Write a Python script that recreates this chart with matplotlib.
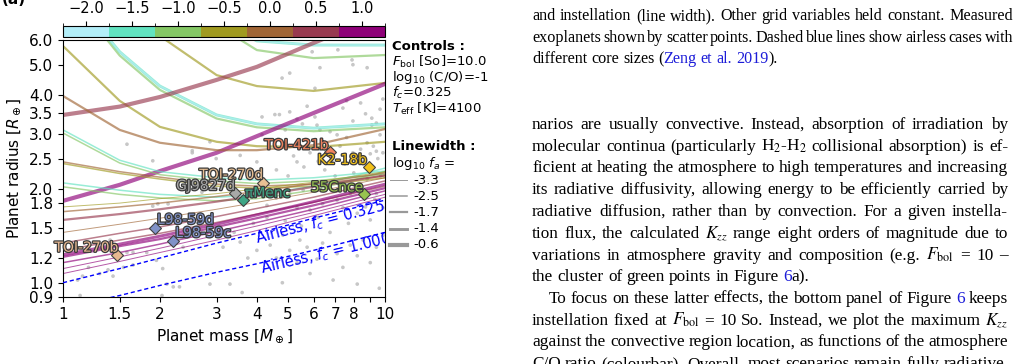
"""
Panel (a): model mass-radius curves coloured by a discrete colourbar,
line width by log10 f_a, measured exoplanets as grey points, plus the
neighbouring column of paper text.
"""

import matplotlib
matplotlib.use("Agg")
import matplotlib.pyplot as plt
import matplotlib.patheffects as pe
from matplotlib.colors import ListedColormap, BoundaryNorm
from matplotlib.colorbar import ColorbarBase
from matplotlib.lines import Line2D
from matplotlib.ticker import FixedLocator, FixedFormatter, NullLocator
import numpy as np

W, H = 1024, 364

# ---------------------------------------------------------------- data
mass_grid = [1, 1.5, 2, 3, 4, 6, 10]

cbar_levels = [-2.0, -1.5, -1.0, -0.5, 0.0, 0.5, 1.0]
cbar_colors = ["#b3eef8", "#62e3c0", "#84c765", "#a09a20",
               "#a06535", "#983a50", "#8e0078"]

fa_labels = ["-3.3", "-2.5", "-1.7", "-1.4", "-0.6"]
fa_widths = [0.7, 1.1, 1.6, 2.1, 3.0]

# one entry per model curve: colour index, width index, radius on mass_grid
curve_color = [3, 2, 1, 0, 3, 2, 1, 0, 5, 6, 4,
               2, 1, 3, 4, 2, 1, 3, 4, 5, 4, 5, 5, 6, 6, 6, 6, 6]
curve_width = [2, 2, 3, 1, 2, 2, 3, 1, 4, 4, 2,
               1, 1, 1, 1, 1, 1, 0, 1, 2, 0, 1, 1, 3, 2, 1, 0, 0]
curve_radius = [
    [12.5, 8.06, 6.18, 4.63, 4.27, 4.12, 4.37],
    [20.0, 13.0, 9.30, 6.70, 5.57, 5.25, 5.37],
    [19.5, 12.5, 10.06, 6.96, 5.96, 5.78, 5.78],
    [19.5, 12.5, 10.06, 6.96, 5.96, 5.78, 5.78],
    [5.74, 3.83, 3.16, 2.83, 2.74, 2.72, 2.83],
    [9.00, 5.35, 4.15, 3.36, 3.15, 3.06, 3.15],
    [9.10, 5.50, 4.27, 3.45, 3.23, 3.13, 3.23],
    [9.10, 5.50, 4.27, 3.45, 3.23, 3.13, 3.23],
    [3.45, 3.67, 3.94, 4.47, 4.92, 5.87, 7.30],
    [1.83, 2.06, 2.28, 2.61, 2.95, 3.50, 4.34],
    [3.97, 3.09, 2.81, 2.66, 2.66, 2.76, 3.11],
    [3.02, 2.42, 2.22, 2.12, 2.08, 2.12, 2.23],
    [3.09, 2.47, 2.27, 2.17, 2.13, 2.17, 2.28],
    [2.41, 2.24, 2.15, 2.04, 2.01, 2.04, 2.17],
    [2.44, 2.27, 2.18, 2.07, 2.04, 2.07, 2.20],
    [2.03, 1.92, 1.87, 1.83, 1.86, 1.98, 2.27],
    [2.09, 1.98, 1.92, 1.88, 1.91, 2.04, 2.33],
    [1.75, 1.80, 1.86, 1.93, 2.00, 2.10, 2.27],
    [1.69, 1.75, 1.80, 1.89, 1.96, 2.08, 2.25],
    [1.59, 1.66, 1.72, 1.82, 1.90, 2.03, 2.21],
    [1.45, 1.54, 1.61, 1.72, 1.81, 1.95, 2.17],
    [1.34, 1.44, 1.51, 1.63, 1.73, 1.88, 2.12],
    [1.27, 1.37, 1.44, 1.56, 1.66, 1.81, 2.04],
    [1.23, 1.33, 1.41, 1.54, 1.65, 1.82, 2.07],
    [1.21, 1.31, 1.38, 1.51, 1.61, 1.77, 2.01],
    [1.16, 1.25, 1.33, 1.46, 1.56, 1.72, 1.97],
    [1.11, 1.21, 1.29, 1.42, 1.52, 1.68, 1.92],
    [1.07, 1.17, 1.25, 1.37, 1.47, 1.64, 1.88],
]

airless_fc = ["0.325", "1.000"]
airless_radius = [
    [1.00, 1.11, 1.20, 1.34, 1.44, 1.61, 1.84],
    [0.83, 0.91, 0.98, 1.08, 1.15, 1.27, 1.45],
]

# measured exoplanets (grey points)
obs_mass = [
    1.13, 1.11, 1.15, 1.20, 1.30, 1.38, 1.40, 1.43, 1.54, 1.65, 1.90, 1.97,
    2.12, 1.82, 1.95, 2.04, 2.10, 2.20, 2.30, 2.03, 1.58, 1.65, 2.20, 2.36,
    1.58, 1.90, 2.52, 2.52, 2.86, 2.99,
    4.79, 5.06, 5.94, 6.28, 7.14, 7.90, 7.95, 8.80, 6.06, 4.15, 4.55, 5.06,
    5.33, 5.54, 5.73, 6.06, 6.15, 6.28, 6.75, 7.10, 7.40, 7.60, 7.95, 8.40,
    8.70, 9.10, 9.40, 9.65, 9.85, 9.10, 8.80, 9.20, 9.65, 8.40, 7.95, 9.00,
    9.40, 9.85, 7.60, 7.25, 6.90, 6.28, 5.85, 5.33, 4.00, 3.55, 4.90, 4.70,
    4.15,
    6.50, 7.00, 7.50, 8.00, 8.50, 9.00, 9.50, 6.20, 5.60, 5.00, 4.60, 8.80,
    7.20, 9.70, 4.20, 3.80, 3.30, 3.00, 2.70, 5.20, 6.80,
    2.86, 3.14, 3.55, 3.75, 4.00, 4.40, 4.60, 4.82, 5.06, 5.33, 5.44, 5.73,
    5.85, 6.15, 6.40, 6.75, 7.10, 7.40, 7.80, 8.20, 8.55, 9.00, 9.40, 9.85,
    8.20, 3.30, 2.86, 6.90, 9.00, 8.20, 7.40, 7.10, 6.40, 5.85, 5.33, 5.06,
    4.60, 4.30, 4.00, 5.57, 6.75, 7.60, 7.80, 9.40, 9.85,
    3.60, 4.80, 9.60, 4.30, 3.90, 4.90, 5.50, 3.40, 6.20, 7.70, 8.70, 9.30,
]
obs_radius = [
    0.91, 1.02, 1.05, 1.12, 1.07, 1.10, 1.37, 1.05, 1.12, 1.14, 1.76, 1.79,
    1.79, 1.25, 1.18, 1.11, 0.99, 0.97, 0.97, 0.91, 1.25, 1.25, 1.32, 1.30,
    2.78, 2.46, 2.65, 2.61, 2.83, 2.50,
    4.53, 4.70, 5.50, 4.89, 5.58, 5.18, 5.00, 4.89, 4.20, 3.40, 3.46, 3.53,
    3.35, 3.23, 3.68, 3.40, 3.20, 3.09, 3.05, 2.98, 3.63, 3.83, 3.30, 3.77,
    3.48, 3.37, 3.25, 3.60, 3.88, 3.20, 2.81, 2.74, 2.98, 2.68, 2.61, 2.59,
    2.64, 2.61, 2.92, 2.74, 2.61, 2.68, 2.61, 2.44, 2.44, 2.56, 3.09, 3.46,
    2.98,
    2.30, 2.20, 2.40, 2.25, 2.45, 2.35, 2.50, 2.45, 2.35, 2.20, 2.30, 2.15,
    2.05, 2.20, 2.15, 2.25, 2.10, 2.00, 1.95, 2.55, 2.60,
    1.62, 1.30, 1.35, 1.20, 1.27, 1.32, 1.20, 1.42, 1.27, 1.16, 1.37, 1.30,
    1.07, 1.19, 1.34, 1.45, 1.24, 1.12, 1.32, 1.22, 1.37, 1.16, 1.30, 1.42,
    0.99, 0.99, 0.99, 1.02, 1.59, 1.67, 1.74, 1.84, 1.79, 1.71, 1.74, 1.93,
    1.87, 1.77, 1.90, 1.98, 2.02, 2.08, 1.93, 1.93, 1.74,
    0.93, 1.00, 0.96, 1.62, 1.55, 1.58, 1.52, 1.45, 1.62, 1.55, 1.75, 1.85,
]

named_planets = ["TOI-270b", "L98-59d", "L98-59c", "TOI-270d", "GJ9827d",
                 "πMenc", "55Cnce", "TOI-421b", "K2-18b"]
named_mass = [1.47, 1.93, 2.20, 4.17, 3.42, 3.62, 8.60, 6.75, 8.90]
named_radius = [1.23, 1.50, 1.36, 2.09, 1.94, 1.84, 1.92, 2.62, 2.35]

controls_text = [r"$F_\mathrm{bol}$ [So]=10.0", r"log$_{10}$ (C/O)=-1",
                 r"$f_c$=0.325", r"$T_\mathrm{eff}$ [K]=4100"]

caption_lines = [
    "and instellation (line width). Other grid variables held constant. Measured",
    "exoplanets shown by scatter points. Dashed blue lines show airless cases with",
    "different core sizes (|^Zeng ^et ^al. ^2019|).",
]
body_lines = [
    "narios are usually convective. Instead, absorption of irradiation by",
    r"molecular continua (particularly H$_2$-H$_2$ collisional absorption) is ef-",
    "ficient at heating the atmosphere to high temperatures and increasing",
    "its radiative diffusivity, allowing energy to be efficiently carried by",
    "radiative diffusion, rather than by convection. For a given instella-",
    r"tion flux, the calculated $K_{zz}$ range eight orders of magnitude due to",
    r"variations in atmosphere gravity and composition (e.g. $F_\mathrm{bol}$ = 10 –",
    "the cluster of green points in Figure ^6|a).",
    "To focus on these latter effects, the bottom panel of Figure ^6 keeps",
    r"instellation fixed at $F_\mathrm{bol}$ = 10 So. Instead, we plot the maximum $K_{zz}$",
    "against the convective region location, as functions of the atmosphere",
    "C/O ratio (colourbar). Overall, most scenarios remain fully radiative-",
]

# ---------------------------------------------------------------- styling
marker_colors = ["#e8b890", "#8092c8", "#8092c8", "#e8c094", "#a8a8a8",
                 "#3fa585", "#98c450", "#f0825e", "#f2c21c"]
# label placement: (ha, dx px, dy px) relative to the marker
label_place = [("right", 1, -7), ("left", 2, -8), ("left", 2, -8),
               ("right", 0, -8), ("right", 0, -7), ("left", 2, -7),
               ("right", -1, -7), ("right", -2, -7), ("right", -2, -7)]
LINK_BLUE = "#1c1cd8"
CAPTION_SIZE = 11.6
BODY_SIZE = 12.4


def fbox(left, top, right, bottom):
    return [left / W, 1 - bottom / H, (right - left) / W, (bottom - top) / H]


def fxy(px, py):
    return px / W, 1 - py / H


def draw_text_line(fig, renderer, line, x0, x1, y_base, justify, size):
    words = []
    for word in line.split(" "):
        parts = []
        for seg in word.split("|"):
            color = LINK_BLUE if seg.startswith("^") else "black"
            seg = seg.lstrip("^")
            t = fig.text(0, 0, seg, color=color, fontsize=size,
                         family="Liberation Serif", math_fontfamily="stix",
                         va="baseline", ha="left")
            parts.append((t, t.get_window_extent(renderer).width))
        words.append(parts)
    widths = [sum(w for _, w in parts) for parts in words]
    if justify and len(words) > 1:
        gap = (x1 - x0 - sum(widths)) / (len(words) - 1)
    else:
        gap = 0.25 * size * 100 / 72
    x = x0
    for parts in words:
        for t, w in parts:
            t.set_position(fxy(x, y_base))
            x += w
        x += gap


fig = plt.figure(figsize=(W / 100, H / 100), dpi=100)
renderer = fig.canvas.get_renderer()

# ---------------------------------------------------------------- main axes
ax = fig.add_axes(fbox(63, 40, 385, 297))
ax.set_xscale("log")
ax.set_yscale("log")
ax.set_xlim(1, 10)
ax.set_ylim(0.9, 6.0)

ax.scatter(obs_mass, obs_radius, s=7, color="#bdbdbd", alpha=0.85,
           edgecolors="none", zorder=1)

for ci, wi, rr in zip(curve_color, curve_width, curve_radius):
    ax.plot(mass_grid, rr, color=cbar_colors[ci], lw=fa_widths[wi],
            alpha=0.65, zorder=2)

for fc, rr in zip(airless_fc, airless_radius):
    ax.plot(mass_grid, rr, color="blue", lw=1.0, ls=(0, (3, 2)), zorder=3)

# airless labels, rotated along their lines
label_pos = [(6.27, 1.56), (6.56, 1.235)]
for fc, rr, (lx, ly) in zip(airless_fc, airless_radius, label_pos):
    p0 = ax.transData.transform((mass_grid[0], rr[0]))
    p1 = ax.transData.transform((mass_grid[-1], rr[-1]))
    ang = np.degrees(np.arctan2(p1[1] - p0[1], p1[0] - p0[0]))
    ax.text(lx, ly, r"Airless, $f_c$ = " + fc, color="blue", fontsize=10.5,
            rotation=ang, rotation_mode="anchor", ha="center", va="center",
            zorder=4, clip_on=True)

stroke = [pe.withStroke(linewidth=1.8, foreground="#3a3a3a")]
for name, m, r, col, (ha, dx, dy) in zip(named_planets, named_mass,
                                         named_radius, marker_colors,
                                         label_place):
    ax.plot(m, r, marker="D", ms=6, mfc=col, mec="#404040", mew=0.8,
            zorder=6)
    ax.annotate(name, (m, r), xytext=(dx * 0.72, -dy * 0.72),
                textcoords="offset points", ha=ha, va="center",
                fontsize=10, color=col, path_effects=stroke, zorder=7)

yticks = [0.9, 1.0, 1.2, 1.5, 1.8, 2.0, 2.5, 3.0, 3.5, 4.0, 5.0, 6.0]
ax.yaxis.set_major_locator(FixedLocator(yticks))
ax.yaxis.set_major_formatter(FixedFormatter([f"{v:.1f}" for v in yticks]))
ax.yaxis.set_minor_locator(NullLocator())
xticks = [1, 1.5, 2, 3, 4, 5, 6, 7, 8, 9, 10]
ax.xaxis.set_major_locator(FixedLocator(xticks))
ax.xaxis.set_major_formatter(FixedFormatter(
    ["1", "1.5", "2", "3", "4", "5", "6", "7", "8", "", "10"]))
ax.xaxis.set_minor_locator(NullLocator())
ax.tick_params(labelsize=11)
ax.set_xlabel(r"Planet mass [$M_\oplus$]", fontsize=11)
ax.set_ylabel(r"Planet radius [$R_\oplus$]", fontsize=11)

# ---------------------------------------------------------------- colourbar
cax = fig.add_axes(fbox(63, 26, 385, 37))
edges = [v - 0.25 for v in cbar_levels] + [cbar_levels[-1] + 0.25]
cmap = ListedColormap(cbar_colors)
cb = ColorbarBase(cax, cmap=cmap, norm=BoundaryNorm(edges, cmap.N),
                  orientation="horizontal", ticks=cbar_levels)
cb.set_ticklabels([f"{v:.1f}".replace("-", "\u2212") for v in cbar_levels])
cax.xaxis.set_ticks_position("top")
cax.tick_params(labelsize=10.5)

fig.text(0.002, 1.0, "(a)", fontsize=11, fontweight="bold", va="center")

# ---------------------------------------------------------------- side notes
fig.text(*fxy(392, 46), "Controls :", fontsize=9.5, fontweight="bold",
         va="center")
for i, s in enumerate(controls_text):
    fig.text(*fxy(392, 62 + 15.7 * i), s, fontsize=9.5, va="center")
fig.text(*fxy(392, 147), "Linewidth :", fontsize=9.5, fontweight="bold",
         va="center")
fig.text(*fxy(392, 163), r"log$_{10}$ $f_a$ =", fontsize=9.5, va="center")
for i, (lab, lw) in enumerate(zip(fa_labels, fa_widths)):
    y = 180 + 16.2 * i
    x0, y0 = fxy(390, y)
    x1, _ = fxy(407, y)
    fig.add_artist(Line2D([x0, x1], [y0, y0], lw=lw, color="#999999"))
    fig.text(*fxy(413, y), lab, fontsize=9.5, va="center")

# ---------------------------------------------------------------- paper text
for i, line in enumerate(caption_lines):
    draw_text_line(fig, renderer, line, 532, 1013, 20 + 21.6 * i,
                   justify=i < len(caption_lines) - 1, size=CAPTION_SIZE)

no_justify = {7, 11}
for i, line in enumerate(body_lines):
    x0 = 549 if i == 8 else 532
    draw_text_line(fig, renderer, line, x0, 1008, 129 + 21.75 * i,
                   justify=i not in no_justify, size=BODY_SIZE)

fig.savefig("out.png", dpi=100)
